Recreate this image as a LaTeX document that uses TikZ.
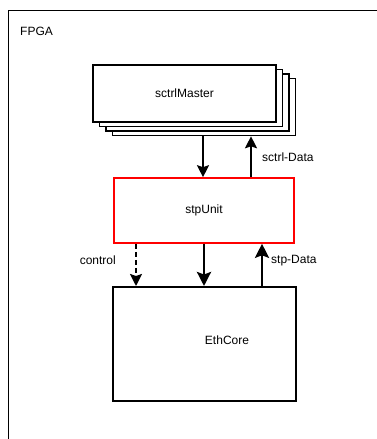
\documentclass[tikz,border=0pt]{standalone}
\usepackage{fontspec}
\setmainfont{Liberation Sans}
\usetikzlibrary{arrows.meta}
\begin{document}
\begin{tikzpicture}[x=1pt,y=-1pt,
  every node/.style={font=\fontsize{12}{14}\selectfont},
  blk/.style={draw=black,line width=1.6pt,fill=white,minimum width=183pt,inner sep=0pt},
  arr/.style={line width=1.8pt,-{Stealth[width=12pt,length=12pt,inset=2pt]}},
  barr/.style={line width=2.8pt,-{Stealth[width=14pt,length=14pt,inset=2.5pt]}},
  lbl/.style={inner sep=0pt}]
\useasboundingbox (0,0) rectangle (377,439);
\begin{scope}
\clip (0,0) rectangle (377,439);
\draw[line width=1.5pt] (8.5,450) -- (8.5,10.5) -- (390,10.5);
\end{scope}
\node[lbl,anchor=west] (fpga) at (20,31) {FPGA};
% stacked sctrlMaster
\node[blk,minimum height=57pt] (m3) at (204,107) {};
\node[blk,minimum height=57pt] (m2) at (197.5,102.5) {};
\node[blk,minimum height=57pt] (m1) at (191,98) {};
\node[blk,minimum height=57pt] (master) at (184.5,93.5) {sctrlMaster};
% stpUnit
\node[draw=red,line width=1.6pt,fill=white,minimum width=180pt,minimum height=65pt,inner sep=0pt] (stp) at (204,210.5) {stpUnit};
% EthCore
\node[blk,line width=2pt,minimum height=114pt] (eth) at (204,344) {};
\node[lbl] (ethl) at (227,340) {EthCore};
% connectors top
\coordinate (d0) at (203,0);
\coordinate (u1) at (251,0);
\draw[arr] (d0 |- m3.south) -- (d0 |- stp.north);
\draw[arr] (u1 |- stp.north) -- (u1 |- m3.south);
\node[lbl,anchor=west] (sd) at (262,157) {sctrl-Data};
% connectors bottom
\coordinate (c1) at (136,0);
\coordinate (c2) at (204,0);
\coordinate (c3) at (262,0);
\draw[arr,line width=2pt,dash pattern=on 5pt off 3pt] (c1 |- stp.south) -- (c1 |- eth.north);
\draw[barr] (c2 |- stp.south) -- (c2 |- eth.north);
\draw[barr] (c3 |- eth.north) -- (c3 |- stp.south);
\node[lbl,anchor=east] (ctl) at (116,260) {control};
\node[lbl,anchor=west] (sdat) at (271,261) {stp-Data};
\end{tikzpicture}
\end{document}
